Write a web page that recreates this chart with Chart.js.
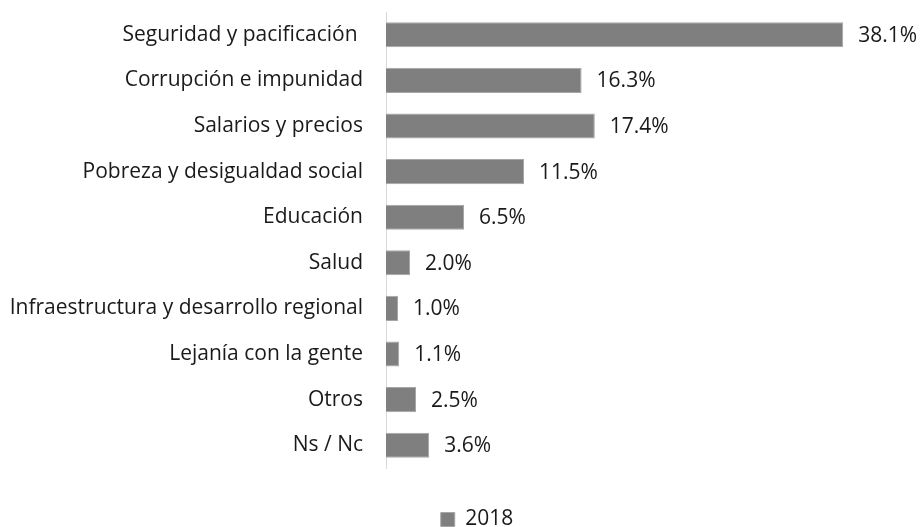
<!DOCTYPE html>
<html>
<head>
<meta charset="utf-8">
<script src="https://cdn.jsdelivr.net/npm/chart.js@4"></script>
<style>
  html, body { margin: 0; padding: 0; background: #fff; }
  #wrap { width: 920px; height: 527px; }
</style>
</head>
<body>
<div id="wrap"><canvas id="grafico"></canvas></div>
<script>
// Datos
const categorias = [
    'Seguridad y pacificación ',
    'Corrupción e impunidad',
    'Salarios y precios',
    'Pobreza y desigualdad social',
    'Educación',
    'Salud',
    'Infraestructura y desarrollo regional',
    'Lejanía con la gente',
    'Otros',
    'Ns / Nc'
];
const valores2018 = [38.1, 16.3, 17.4, 11.5, 6.5, 2.0, 1.0, 1.1, 2.5, 3.6];
const serie = '2018';

const GRIS = '#7f7f7f';
const TEXTO = '#1a1a1a';
const FUENTE = "'Open Sans', Lato, sans-serif";
const TAM = 21;

// etiquetas de valor al final de cada barra
const etiquetas = {
    id: 'etiquetas',
    afterDatasetsDraw(chart) {
        const ctx = chart.ctx;
        const meta = chart.getDatasetMeta(0);
        ctx.save();
        ctx.font = TAM + 'px ' + FUENTE;
        ctx.fillStyle = TEXTO;
        ctx.textAlign = 'left';
        ctx.textBaseline = 'middle';
        meta.data.forEach((bar, i) => {
            ctx.fillText(valores2018[i].toFixed(1) + '%', bar.x + 15, bar.y + 1);
        });
        ctx.restore();
    }
};

// leyenda pegada al borde inferior y centrada un poco a la derecha
const ajusteLeyenda = {
    id: 'ajusteLeyenda',
    beforeLayout(chart) {
        const lg = chart.legend;
        if (!lg || lg._parcheado) return;
        const fitOrig = lg.fit.bind(lg);
        lg.fit = function () { fitOrig(); this.height = 59; };
        lg._parcheado = true;
    },
    afterLayout(chart) {
        if (chart.legend) chart.legend.left = 34;
    }
};

new Chart(document.getElementById('grafico'), {
    type: 'bar',
    data: {
        labels: categorias,
        datasets: [{
            label: serie,
            data: valores2018,
            backgroundColor: GRIS,
            borderColor: '#a6a6a6',
            borderWidth: 1,
            categoryPercentage: 1,
            barPercentage: 0.55
        }]
    },
    options: {
        indexAxis: 'y',
        responsive: true,
        maintainAspectRatio: false,
        animation: false,
        layout: { padding: { top: 12, right: 0, bottom: 0, left: 0 } },
        plugins: {
            tooltip: { enabled: false },
            legend: {
                position: 'bottom',
                labels: {
                    font: { family: FUENTE, size: TAM },
                    color: TEXTO,
                    boxWidth: 14,
                    boxHeight: 14,
                    padding: 41
                }
            }
        },
        scales: {
            x: {
                display: false,
                min: 0,
                max: 44.5
            },
            y: {
                afterFit: (s) => { s.width = 386; s.paddingTop = 0; s.paddingBottom = 0; },
                grid: { display: false, drawTicks: false },
                border: { display: true, color: '#d9d9d9', width: 1 },
                ticks: {
                    font: { family: FUENTE, size: TAM },
                    color: TEXTO,
                    padding: 23
                }
            }
        }
    },
    plugins: [etiquetas, ajusteLeyenda]
});
</script>
</body>
</html>
